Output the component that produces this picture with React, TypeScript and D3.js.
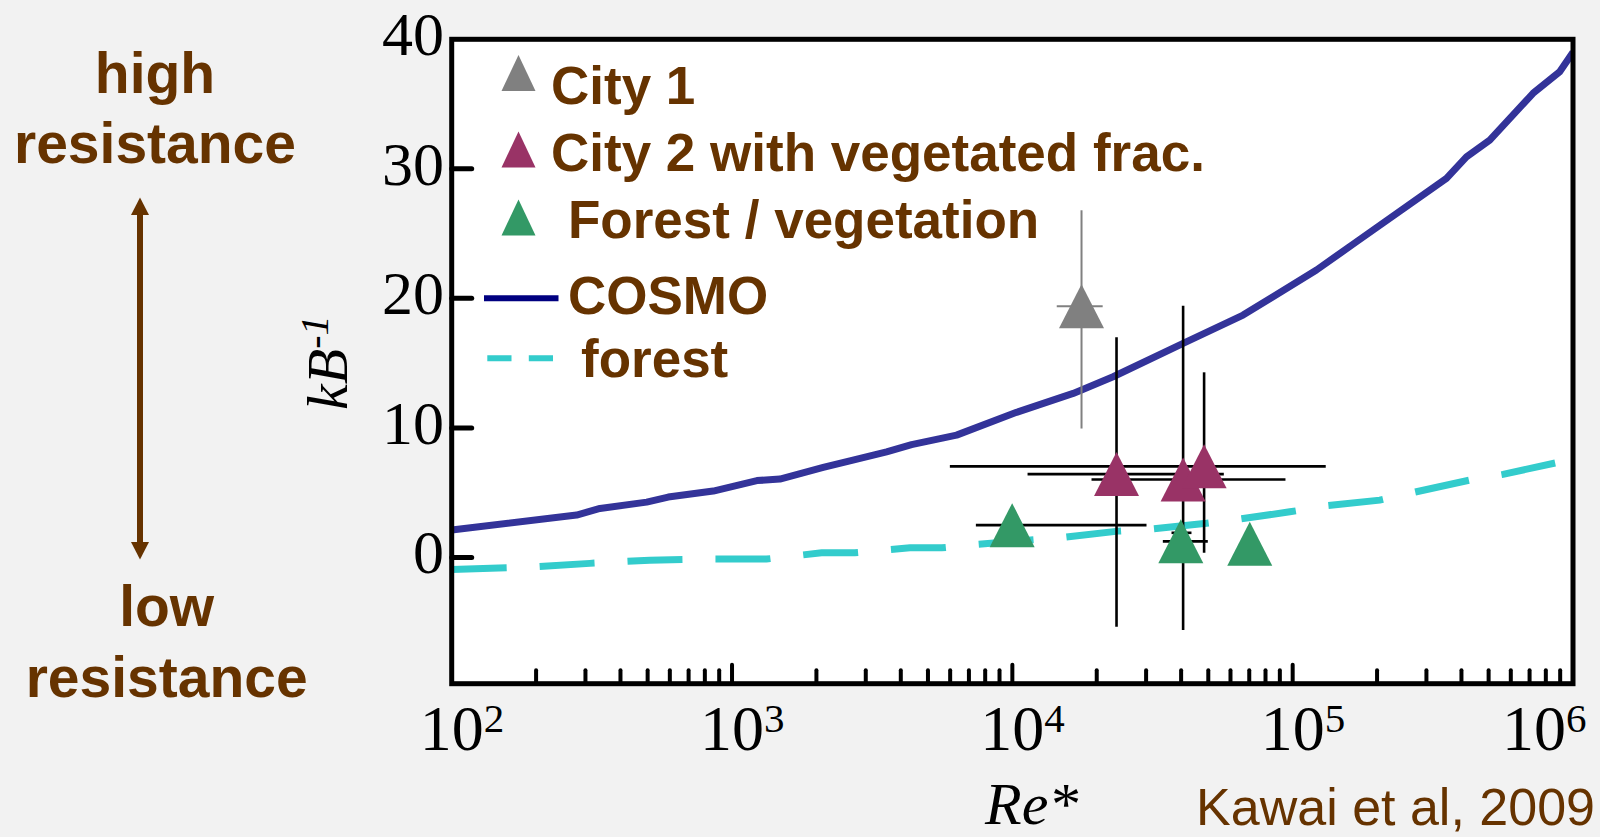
import React from "react";
import * as d3 from "d3";

const W = 1600;
const H = 837;

// COSMO model curve (Re*, kB^-1)
const cosmoRe = [100, 279, 338, 496, 592, 857, 1227, 1482, 2115, 2633, 3559, 4370, 6324, 10350, 16480, 22880, 40660, 66530, 121600, 168900, 353700, 416800, 504700, 720000, 896500, 1000000];
const cosmoK = [2.11, 3.27, 3.78, 4.27, 4.66, 5.12, 5.93, 6.05, 6.95, 7.46, 8.15, 8.71, 9.44, 11.2, 12.66, 13.95, 16.53, 18.71, 22.19, 24.37, 29.27, 30.93, 32.22, 35.83, 37.5, 39.0];

// forest curve
const forestRe = [100, 198, 311, 509, 834, 1327, 2087, 2743, 4311, 5605, 7453, 15170, 23840, 31340, 49270, 64760, 97700, 133700, 204500, 276400, 428100, 562900, 884200];
const forestK = [-0.93, -0.73, -0.46, -0.21, -0.13, -0.13, 0.36, 0.36, 0.74, 0.74, 1.0, 1.54, 2.03, 2.19, 2.63, 2.96, 3.52, 4.0, 4.42, 5.07, 5.97, 6.41, 7.34];

// City 1
const city1Re = [17650];
const city1K = [19.4];
const city1ReLo = [14400];
const city1ReHi = [21000];
const city1KLo = [9.95];
const city1KHi = [26.8];

// City 2 with vegetated fraction
const city2Re = [23530, 40660, 48310];
const city2K = [6.43, 6.01, 7.03];
const city2ReLo = [11330, 19160, 5985];
const city2ReHi = [56800, 94250, 131200];
const city2KLo = [-5.36, -5.61, 0.36];
const city2KHi = [16.99, 19.43, 14.29];

// Forest / vegetation
const vegRe = [9984, 39900, 70300];
const vegK = [2.49, 1.24, 1.06];
const vegReLo = [7411, 34420, null];
const vegReHi = [30100, 49800, null];
const extraBarRe = [36960, 43550];
const extraBarK = 1.9;

const yTickValues = [0, 10, 20, 30, 40];
const xTickExponents = [2, 3, 4, 5, 6];
const legendLabels = ["City 1", "City 2 with vegetated frac.", "Forest / vegetation", "COSMO", "forest"];

const brown = "#663300";
const gray = "#808080";
const magenta = "#993366";
const green = "#339966";
const navy = "#333399";
const navyLegend = "#000080";
const cyan = "#33CCCC";
const serif = "'Liberation Serif', 'Times New Roman', serif";
const sans = "'Liberation Sans', Arial, sans-serif";

const L = 451.7, R = 1573, T = 39.3, B = 683.7;
const x = d3.scaleLog().domain([1e2, 1e6]).range([L, R]);
const y = d3.scaleLinear().domain([-9.75, 40]).range([B, T]);

const tri = (cx: number, cy: number, w: number, h: number) =>
  `M${cx},${cy - h / 2}L${cx + w / 2},${cy + h / 2}L${cx - w / 2},${cy + h / 2}Z`;

export default function App() {
  const lineGen = d3
    .line<[number, number]>()
    .x((d) => x(d[0]))
    .y((d) => y(d[1]));
  const cosmoPath = lineGen(cosmoRe.map((r, i) => [r, cosmoK[i]] as [number, number]));
  const forestPath = lineGen(forestRe.map((r, i) => [r, forestK[i]] as [number, number]));

  const minorTicks: number[] = [];
  for (let e = 2; e < 6; e++) for (let m = 2; m <= 9; m++) minorTicks.push(m * Math.pow(10, e));
  const majorTicks = [1e3, 1e4, 1e5];

  const errBars = (
    re: number[], k: number[], reLo: (number | null)[], reHi: (number | null)[],
    kLo: number[] | null, kHi: number[] | null, color: string, sw: number, key: string
  ) =>
    re.map((r, i) => (
      <g key={key + i} stroke={color} strokeWidth={sw}>
        {kLo && kHi && <line x1={x(r)} x2={x(r)} y1={y(kLo[i])} y2={y(kHi[i])} />}
        {reLo[i] != null && reHi[i] != null && (
          <line x1={x(reLo[i] as number)} x2={x(reHi[i] as number)} y1={y(k[i])} y2={y(k[i])} />
        )}
      </g>
    ));

  const legendX = [551, 551, 568, 568, 581];
  const legendY = [104, 171, 238, 314, 377];
  const legendMarkerY = [73, 149.5, 217.5];
  const legendMarkerColors = [gray, magenta, green];

  return (
    <svg width={W} height={H} style={{ position: "absolute", left: 0, top: 0, display: "block" }}>
      <defs>
        <clipPath id="plotClip">
          <rect x={L} y={T} width={R - L} height={B - T} />
        </clipPath>
      </defs>
      <rect x={0} y={0} width={W} height={H} fill="#F2F2F2" />
      <rect x={L} y={T} width={R - L} height={B - T} fill="#fff" />

      <g clipPath="url(#plotClip)" fill="none">
        <path d={cosmoPath || ""} stroke={navy} strokeWidth={7} strokeLinejoin="round" />
        <path d={forestPath || ""} stroke={cyan} strokeWidth={7} strokeDasharray="55 33" />
      </g>

      {errBars(city1Re, city1K, city1ReLo, city1ReHi, city1KLo, city1KHi, gray, 2, "c1")}
      {errBars(city2Re, city2K, city2ReLo, city2ReHi, city2KLo, city2KHi, "#000", 2.6, "c2")}
      {errBars(vegRe, vegK, vegReLo, vegReHi, null, null, "#000", 2.6, "v")}
      <line x1={x(extraBarRe[0])} x2={x(extraBarRe[1])} y1={y(extraBarK)} y2={y(extraBarK)} stroke="#000" strokeWidth={2.6} />

      {city1Re.map((r, i) => <path key={"t1" + i} d={tri(x(r), y(city1K[i]), 45, 44)} fill={gray} />)}
      {city2Re.map((r, i) => <path key={"t2" + i} d={tri(x(r), y(city2K[i]), 45, 44)} fill={magenta} />)}
      {vegRe.map((r, i) => <path key={"t3" + i} d={tri(x(r), y(vegK[i]), 45, 44)} fill={green} />)}

      {/* frame */}
      <rect x={L} y={T} width={R - L} height={B - T} fill="none" stroke="#000" strokeWidth={5} />

      {/* y ticks */}
      {yTickValues.filter((v) => v < 40).map((v) => (
        <line key={"yt" + v} x1={L} x2={L + 20} y1={y(v)} y2={y(v)} stroke="#000" strokeWidth={5} strokeLinecap="round" />
      ))}
      {yTickValues.map((v) => (
        <text key={"yl" + v} x={444} y={y(v) + 16} textAnchor="end" fontFamily={serif} fontSize={62} fill="#000">
          {v}
        </text>
      ))}

      {/* x ticks */}
      {minorTicks.map((v) => (
        <line key={"xm" + v} x1={x(v)} x2={x(v)} y1={B} y2={B - 13.5} stroke="#000" strokeWidth={4} strokeLinecap="round" />
      ))}
      {majorTicks.map((v) => (
        <line key={"xM" + v} x1={x(v)} x2={x(v)} y1={B} y2={B - 19} stroke="#000" strokeWidth={4} strokeLinecap="round" />
      ))}
      {xTickExponents.map((e) => {
        const cx = Math.min(x(Math.pow(10, e)), W - 66);
        return (
          <text key={"xl" + e} x={cx - 32} y={750} fontFamily={serif} fontSize={64} fill="#000">
            10
            <tspan dy={-18} fontSize={41}>{e}</tspan>
          </text>
        );
      })}

      {/* axis titles */}
      <text x={985} y={824} fontFamily={serif} fontStyle="italic" fontSize={60} fill="#000">
        Re*
      </text>
      <text transform="translate(347,410) rotate(-90)" fontFamily={serif} fontStyle="italic" fontSize={58} fill="#000">
        kB<tspan dy={-19} fontSize={40}>-1</tspan>
      </text>
      <text x={1595} y={825} textAnchor="end" fontFamily={sans} fontSize={52} fill={brown}>
        Kawai et al, 2009
      </text>

      {/* left annotation */}
      <g fontFamily={sans} fontWeight="bold" fontSize={57} fill={brown} textAnchor="middle">
        <text x={155} y={93}>high</text>
        <text x={155} y={163}>resistance</text>
        <text x={166.7} y={626}>low</text>
        <text x={166.7} y={697}>resistance</text>
      </g>
      <g fill={brown} stroke="none">
        <rect x={137} y={213} width={6} height={331} />
        <path d="M140,197.5L149,215L131,215Z" />
        <path d="M140,559.5L149,542L131,542Z" />
      </g>

      {/* legend */}
      {legendMarkerColors.map((c, i) => (
        <path key={"lm" + i} d={tri(518.5, legendMarkerY[i], 34, 36)} fill={c} />
      ))}
      <line x1={484} x2={558.5} y1={298.3} y2={298.3} stroke={navyLegend} strokeWidth={6} />
      <line x1={487.3} x2={553.8} y1={358.3} y2={358.3} stroke={cyan} strokeWidth={6} strokeDasharray="24.2 17.3" />
      {legendLabels.map((t, i) => (
        <text key={"lt" + i} x={legendX[i]} y={legendY[i]} fontFamily={sans} fontWeight="bold" fontSize={53} fill={brown}>
          {t}
        </text>
      ))}
    </svg>
  );
}
